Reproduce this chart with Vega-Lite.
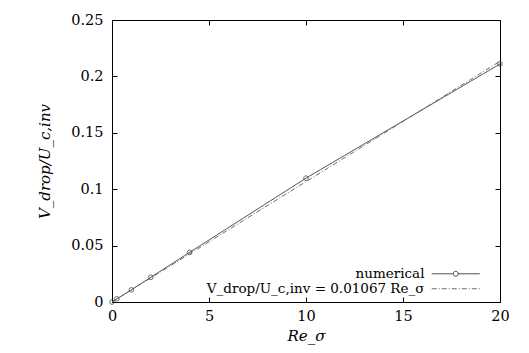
{
  "$schema": "https://vega.github.io/schema/vega-lite/v6.json",
  "width": 388,
  "height": 282,
  "autosize": "none",
  "padding": {"left": 112, "top": 20, "right": 29, "bottom": 51},
  "background": "white",
  "config": {
    "view": {"stroke": "#000", "strokeWidth": 1},
    "font": "DejaVu Serif",
    "axis": {
      "grid": false, "domain": false, "ticks": true, "tickSize": -5, "tickColor": "#000", "labelFlush": false,
      "labelFont": "DejaVu Serif", "labelFontSize": 14.5, "labelColor": "#000",
      "titleFont": "DejaVu Serif", "titleFontSize": 15, "titleFontWeight": "normal", "titleColor": "#000"
    },
    "legend": {
      "orient": "none", "legendX": 337, "legendY": 247,
      "labelAlign": "right", "labelOffset": -38, "labelFontSize": 13.5, "labelFont": "DejaVu Serif",
      "labelColor": "#000", "labelLimit": 400, "symbolSize": 100, "rowPadding": 0, "symbolStrokeWidth": 1
    }
  },
  "data": {"values": [
    {"series": "numerical", "x": 0, "y": 0},
    {"series": "numerical", "x": 0.25, "y": 0.0028},
    {"series": "numerical", "x": 1, "y": 0.0108},
    {"series": "numerical", "x": 2, "y": 0.0219},
    {"series": "numerical", "x": 4, "y": 0.0440},
    {"series": "numerical", "x": 10, "y": 0.1098},
    {"series": "numerical", "x": 20, "y": 0.2110},
    {"series": "V_drop/U_c,inv = 0.01067 Re_σ", "x": 0, "y": 0},
    {"series": "V_drop/U_c,inv = 0.01067 Re_σ", "x": 20, "y": 0.2134}
  ]},
  "layer": [
    {
      "mark": {"type": "line", "strokeWidth": 1},
      "encoding": {
        "x": {"field": "x", "type": "quantitative", "scale": {"domain": [0, 20], "nice": false},
          "axis": {"orient": "bottom", "values": [0, 5, 10, 15, 20], "title": "Re_σ", "titleFontStyle": "italic", "labelPadding": 12, "titlePadding": 6}},
        "y": {"field": "y", "type": "quantitative", "scale": {"domain": [0, 0.25], "nice": false},
          "axis": {"orient": "left", "values": [0, 0.05, 0.1, 0.15, 0.2, 0.25], "format": "~g", "title": "V_drop/U_c,inv", "titleFontStyle": "italic", "labelPadding": 14, "titlePadding": 18}},
        "color": {"field": "series", "type": "nominal",
          "scale": {"domain": ["numerical", "V_drop/U_c,inv = 0.01067 Re_σ"], "range": ["#3c3c3c", "#6e6e6e"]},
          "legend": {"title": null,
            "encode": {"symbols": {"update": {
              "shape": {"signal": "datum.value === 'numerical' ? 'M-4.8,0H-0.5M0.5,0H4.8M0.5,0A0.5,0.5,0,1,1,-0.5,0A0.5,0.5,0,1,1,0.5,0' : 'M-4.8,0H4.8'"},
              "strokeDash": {"signal": "datum.value === 'numerical' ? [1,0] : [5,2,1,2]"},
              "fill": {"value": "transparent"},
              "strokeWidth": {"value": 1}
            }}}}},
        "strokeDash": {"field": "series", "type": "nominal",
          "scale": {"domain": ["numerical", "V_drop/U_c,inv = 0.01067 Re_σ"], "range": [[1, 0], [5, 2, 1, 2]]},
          "legend": null}
      }
    },
    {
      "transform": [{"filter": "datum.series === 'numerical'"}],
      "mark": {"type": "point", "shape": "circle", "filled": false, "size": 22, "strokeWidth": 1, "color": "#3c3c3c"},
      "encoding": {
        "x": {"field": "x", "type": "quantitative",
          "axis": {"orient": "top", "values": [0, 5, 10, 15, 20], "labels": false, "title": null}},
        "y": {"field": "y", "type": "quantitative",
          "axis": {"orient": "right", "values": [0, 0.05, 0.1, 0.15, 0.2, 0.25], "labels": false, "title": null}}
      }
    }
  ],
  "resolve": {"axis": {"x": "independent", "y": "independent"}}
}
